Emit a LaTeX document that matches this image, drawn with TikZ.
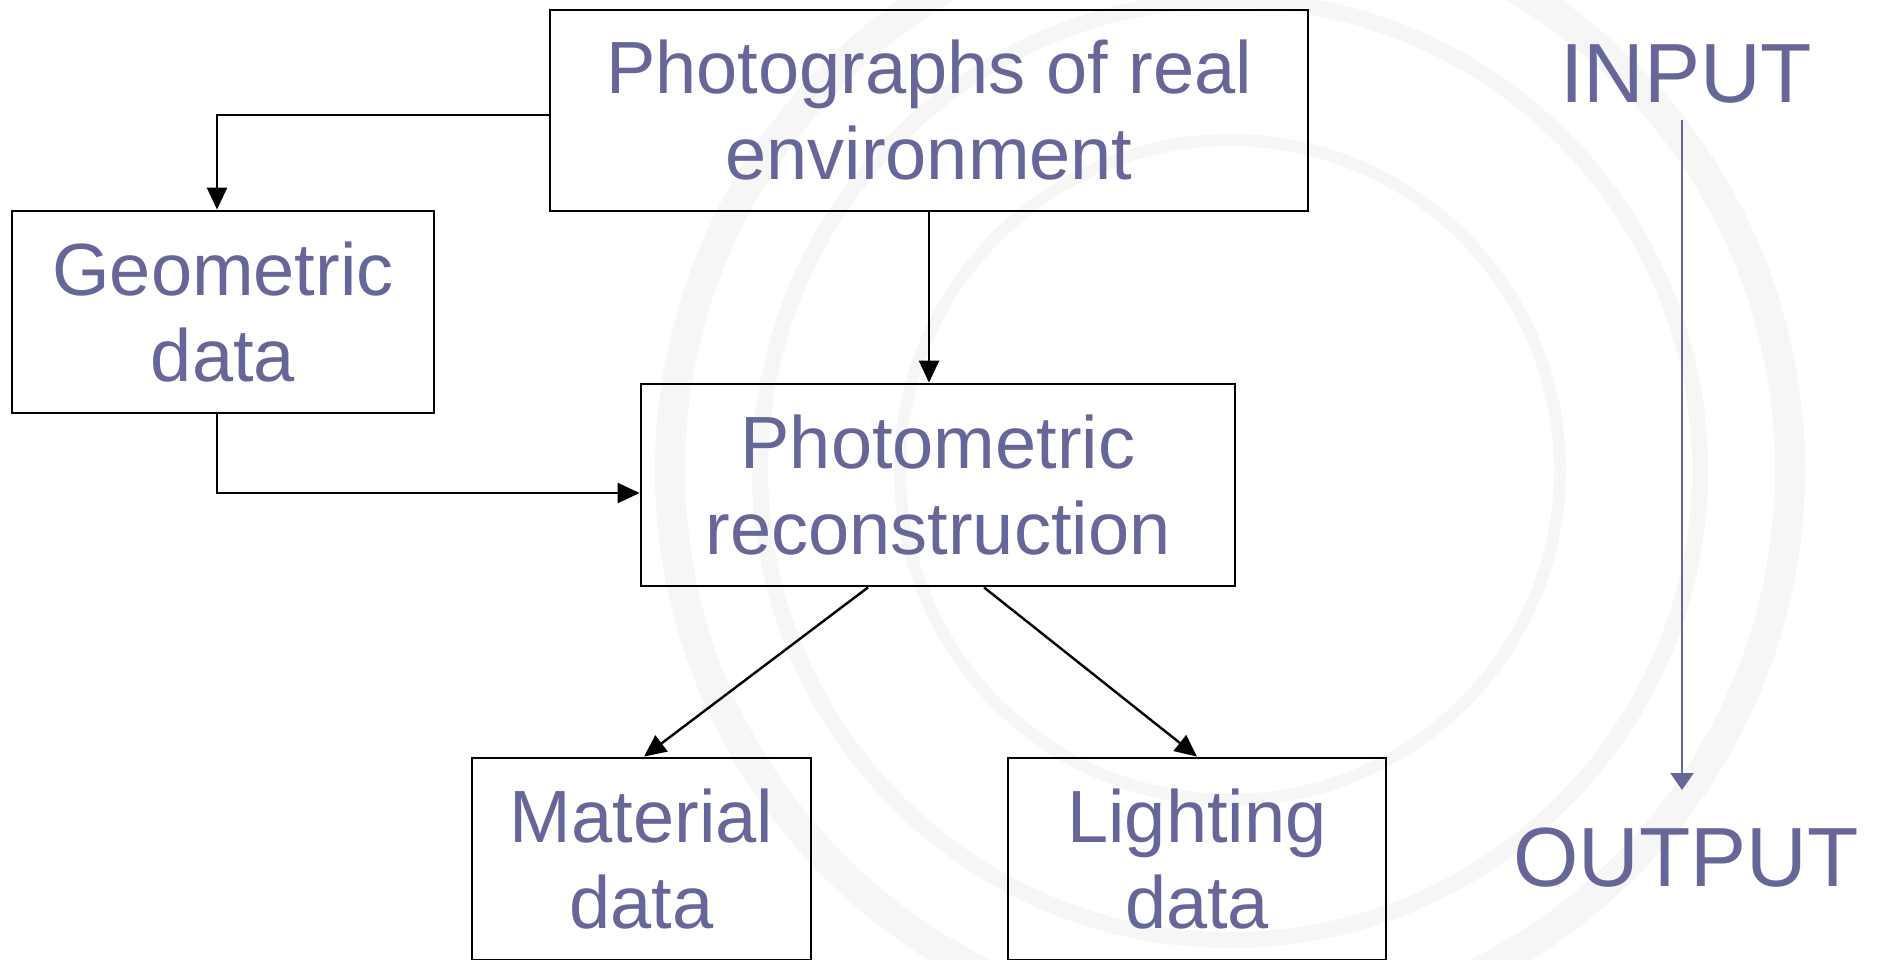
\documentclass[tikz,border=0pt]{standalone}
\usepackage{fontspec}
\setmainfont{Liberation Sans}
\usetikzlibrary{arrows.meta,calc}
\definecolor{labelblue}{RGB}{102,102,153}
\definecolor{faint}{RGB}{246,246,246}
\tikzset{
  box/.style={draw=black, line width=2.8pt, fill=none, inner sep=0pt,
    align=center, text=labelblue, font=\fontsize{74}{86}\selectfont},
  link/.style={draw=black, line width=2.4pt,
    -{Triangle[length=22pt,width=20pt]}},
  flowtxt/.style={text=labelblue, inner sep=0pt, font=\fontsize{84}{96}\selectfont},
  flow/.style={draw=labelblue, line width=2.4pt,
    -{Triangle[length=17pt,width=23pt]}},
  seal/.style={draw=faint, line width=30pt}
}
\begin{document}
\begin{tikzpicture}[x=1pt,y=-1pt]
  \useasboundingbox (0,0) rectangle (1881,960);
  \fill[white] (0,0) rectangle (1881,960);
  % faint seal in the background
  \begin{scope}
    \clip (0,0) rectangle (1881,960);
    \draw[seal] (1230,470) circle[radius=560];
    \draw[seal, line width=16pt] (1230,470) circle[radius=470];
    \draw[seal, line width=12pt] (1230,470) circle[radius=330];
  \end{scope}

  % boxes
  \node[box, minimum width=758pt, minimum height=201pt] (photo) at (929,110.5)
    {Photographs of real\\environment};
  \node[box, minimum width=422pt, minimum height=202pt] (geo) at (223,312)
    {Geometric\\data};
  \node[box, minimum width=594pt, minimum height=202pt] (pm) at (938,485)
    {Photometric\\reconstruction};
  \node[box, minimum width=339pt, minimum height=202pt] (mat) at (641.5,859)
    {Material\\data};
  \node[box, minimum width=378pt, minimum height=202pt] (light) at (1197,859)
    {Lighting\\data};

  % connectors
  \draw[link] ($(photo.west)+(0,4.5)$) -| ($(geo.north)+(-6,0)$);
  \draw[link] (photo.south) -- (photo.south |- pm.north);
  \draw[link] ($(geo.south)+(-6,0)$) |- ($(pm.west)+(0,8)$);
  \draw[link] ($(pm.south)+(-70,0)$) -- ($(mat.north)+(2.5,0)$);
  \draw[link] ($(pm.south)+(46,0)$) -- (light.north);

  % direction of flow
  \node[flowtxt, anchor=base] (in) at (1686,103) {INPUT};
  \node[flowtxt, anchor=base] (out) at (1686,886) {OUTPUT};
  \draw[flow] ($(in.base)+(-4,17)$) -- ($(out.base)+(-4,-96)$);
\end{tikzpicture}
\end{document}
